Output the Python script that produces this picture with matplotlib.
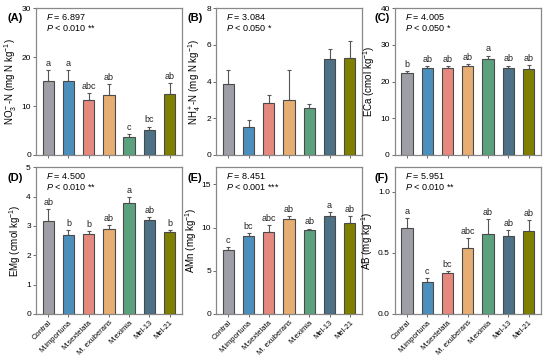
import numpy as np
import matplotlib
matplotlib.use("Agg")
import matplotlib.pyplot as plt

plt.rcParams['font.family'] = ['Liberation Sans', 'DejaVu Sans']
plt.rcParams['mathtext.fontset'] = 'custom'
plt.rcParams['mathtext.rm'] = 'Liberation Sans'
plt.rcParams['mathtext.it'] = 'Liberation Sans:italic'

groups = ['Contral', 'M.importuna', 'M.sextelata', 'M. exuberans', 'M.eximia', 'Mel-13', 'Mel-21']
colors = ['#9E9EA6', '#4C8FBD', '#E5897F', '#E6AE73', '#5BA17E', '#4D7186', '#7F7F00']

no3_mean = [15.2, 15.2, 11.3, 12.2, 3.6, 5.1, 12.4]
no3_err = [2.2, 2.1, 1.4, 2.3, 0.6, 0.7, 2.3]
no3_letters = ['a', 'a', 'abc', 'ab', 'c', 'bc', 'ab']

nh4_mean = [3.89, 1.53, 2.81, 3.01, 2.56, 5.26, 5.28]
nh4_err = [0.77, 0.37, 0.48, 1.63, 0.22, 0.53, 0.93]

eca_mean = [22.4, 23.7, 23.7, 24.2, 26.1, 23.7, 23.5]
eca_err = [0.4, 0.6, 0.6, 0.6, 1.0, 0.7, 1.0]
eca_letters = ['b', 'ab', 'ab', 'ab', 'a', 'ab', 'ab']

emg_mean = [3.17, 2.68, 2.74, 2.89, 3.77, 3.21, 2.80]
emg_err = [0.41, 0.18, 0.07, 0.15, 0.21, 0.08, 0.07]
emg_letters = ['ab', 'b', 'b', 'ab', 'a', 'ab', 'b']

amn_mean = [7.45, 9.0, 9.5, 11.0, 9.69, 11.3, 10.54]
amn_err = [0.27, 0.38, 0.77, 0.3, 0.19, 0.5, 0.76]
amn_letters = ['c', 'bc', 'abc', 'ab', 'ab', 'a', 'ab']

ab_mean = [0.70, 0.26, 0.333, 0.537, 0.65, 0.636, 0.678]
ab_err = [0.085, 0.03, 0.014, 0.083, 0.124, 0.047, 0.091]
ab_letters = ['a', 'c', 'bc', 'abc', 'ab', 'ab', 'ab']

panels = [
    ('(A)', no3_mean, no3_err, no3_letters, r'NO$_3^-$-N (mg N kg$^{-1}$)', (0, 30), [0, 10, 20, 30], None, '6.897', '< 0.010 **'),
    ('(B)', nh4_mean, nh4_err, None, r'NH$_4^+$-N (mg N kg$^{-1}$)', (0, 8), [0, 2, 4, 6, 8], None, '3.084', '< 0.050 *'),
    ('(C)', eca_mean, eca_err, eca_letters, r'ECa (cmol kg$^{-1}$)', (0, 40), [0, 10, 20, 30, 40], None, '4.005', '< 0.050 *'),
    ('(D)', emg_mean, emg_err, emg_letters, r'EMg (cmol kg$^{-1}$)', (0, 5), [0, 1, 2, 3, 4, 5], None, '4.500', '< 0.010 **'),
    ('(E)', amn_mean, amn_err, amn_letters, r'AMn (mg kg$^{-1}$)', (0, 17), [0, 5, 10, 15], None, '8.451', '< 0.001 ***'),
    ('(F)', ab_mean, ab_err, ab_letters, r'AB (mg kg$^{-1}$)', (0, 1.2), [0.0, 0.5, 1.0], '%.1f', '5.951', '< 0.010 **'),
]

fig = plt.figure(figsize=(5.5, 3.62), dpi=100)
lefts = [0.0655, 0.393, 0.718]
bottoms = [0.572, 0.133]
w, h = 0.265, 0.405
label_x = [0.028, 0.355, 0.694]
label_y = [0.950, 0.508]

x = np.arange(len(groups))
for i, (lab, mean, err, letters, ylab, ylim, yt, fmt, fval, pval) in enumerate(panels):
    row, col = divmod(i, 3)
    ax = fig.add_axes([lefts[col], bottoms[row], w, h])
    ax.bar(x, mean, width=0.56, color=colors, edgecolor='#4a4a4a', linewidth=0.8, zorder=3)
    ax.errorbar(x, mean, yerr=[np.zeros(len(x)), err], fmt='none', ecolor='#555555',
                elinewidth=0.8, capsize=1.6, capthick=0.8, zorder=2)
    if letters:
        off = (ylim[1] - ylim[0]) * 0.015
        for xi, m, e, t in zip(x, mean, err, letters):
            ax.text(xi, m + e + off, t, ha='center', va='bottom', fontsize=6.5, color='#222222')
    ax.set_xlim(-0.6, len(groups) - 0.4)
    ax.set_ylim(*ylim)
    ax.set_yticks(yt)
    if fmt:
        ax.set_yticklabels([fmt % v for v in yt])
    ax.set_ylabel(ylab, fontsize=7, labelpad=2)
    ax.set_xticks(x)
    if row == 1:
        ax.set_xticklabels(groups, rotation=45, ha='right', rotation_mode='anchor', fontsize=5.4)
    else:
        ax.set_xticklabels([])
    ax.tick_params(axis='y', labelsize=6)
    ax.tick_params(axis='both', length=2.2, width=0.6, color='#555555', pad=1.5)
    for s in ax.spines.values():
        s.set_color('#888888')
        s.set_linewidth(0.9)
    ax.text(0.07, 0.94, r'$\it{F}$ = ' + fval, transform=ax.transAxes, fontsize=6.5, va='center')
    ax.text(0.07, 0.865, r'$\it{P}$ ' + pval, transform=ax.transAxes, fontsize=6.5, va='center')
    fig.text(label_x[col], label_y[row], lab, fontsize=8, fontweight='bold',
             ha='center', va='center')

fig.savefig('out.png', dpi=100)
